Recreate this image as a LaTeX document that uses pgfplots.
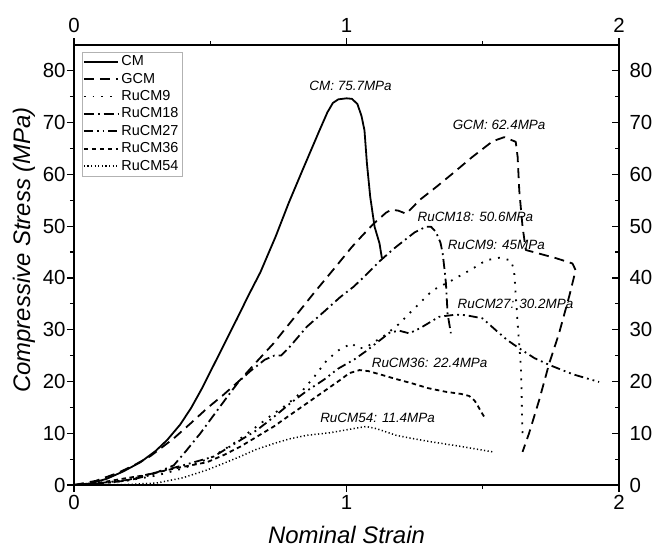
\documentclass[border=0pt]{standalone}
\usepackage{fontspec}
\setmainfont{Liberation Sans}
\usepackage{pgfplots}
\pgfplotsset{compat=1.18}

\pgfplotsset{
  frame/.style={
    scale only axis, width=545bp, height=440bp,
    at={(0,0)}, anchor=south west,
    xmin=0, xmax=2, ymin=0, ymax=85,
    xtick={0,1,2}, minor xtick={0.5,1.5},
    ytick={0,10,...,80}, minor ytick={5,15,...,75},
    major tick length=7bp, minor tick length=4bp,
    axis line style={line width=1.3bp},
    tick style={line width=1.2bp, black},
    tick label style={font=\fontsize{20.5}{24}\selectfont},
    /pgf/number format/assume math mode=true,
  },
}

\begin{document}
\begin{tikzpicture}
\path[use as bounding box] (-74bp,-67bp) rectangle (580bp,485bp);

% top and right scales (right ticks point inward, top ticks outward)
\begin{axis}[frame,
  tick align=outside,
  xtick pos=right, xticklabel pos=right,
  ytick pos=right, yticklabel pos=right,
  major y tick style={xshift=-7bp},
  minor y tick style={xshift=-4bp},
  xticklabel style={yshift=2bp},
]
\end{axis}

\begin{axis}[frame,
  tick align=outside,
  xtick pos=left, ytick pos=left,
  xlabel={\itshape Nominal Strain},
  ylabel={\itshape Compressive Stress (MPa)},
  label style={font=\fontsize{24}{28}\selectfont},
  xlabel style={at={(0.5,0)}, anchor=center, yshift=-50bp},
  ylabel style={at={(0,0.534)}, anchor=center, yshift=50bp},
  yticklabel style={xshift=2bp},
  legend style={at={(0,1)}, anchor=north west, xshift=7.7bp, yshift=-6.7bp,
    draw=gray!60, line width=0.6bp, inner sep=1bp,
    font=\fontsize{14.5}{16}\selectfont,
    nodes={text height=10bp, text depth=2bp, inner sep=2.7bp}},
  legend cell align=left,
  legend image code/.code={\draw[#1] (0bp,0bp) -- (34bp,0bp);},
  every axis plot/.append style={black, line width=1.8bp, line join=round},
]

\addplot[solid] coordinates {
(0,0) (0.06,0.3) (0.12,1.2) (0.18,2.6) (0.244,4.4) (0.30,6.6) (0.342,8.7)
(0.39,11.7) (0.43,14.9) (0.47,18.7) (0.513,23.2) (0.555,27.6) (0.598,32.1)
(0.64,36.6) (0.684,41.1) (0.74,48.0) (0.788,54.5) (0.84,61.0) (0.90,68.4)
(0.93,72.0) (0.95,73.8) (0.97,74.5) (1.0,74.7) (1.02,74.6) (1.04,73.6)
(1.055,71.3) (1.066,68.5) (1.075,62.1) (1.087,55.7) (1.103,49.9) (1.121,46.7)
(1.13,43.8)
};
\addlegendentry{CM}

\addplot[dash pattern=on 10bp off 6bp] coordinates {
(0,0) (0.08,0.8) (0.159,2.3) (0.22,3.8) (0.281,5.6) (0.366,9.0) (0.43,12.0)
(0.488,14.8) (0.55,17.5) (0.61,20.3) (0.67,23.8) (0.733,27.4) (0.80,31.8)
(0.879,37.0) (0.95,41.5) (1.02,46.0) (1.06,48.3) (1.10,50.5) (1.145,52.6)
(1.165,53.2) (1.19,53.0) (1.219,52.4) (1.24,53.5) (1.267,55.0) (1.33,57.6)
(1.39,60.2) (1.46,63.3) (1.536,66.4) (1.579,67.2) (1.621,66.3) (1.628,63.4)
(1.634,56.9) (1.646,49.9) (1.658,45.4) (1.707,44.7) (1.77,43.8) (1.829,42.8)
(1.841,41.5) (1.817,36.4) (1.78,29.3) (1.744,23.5) (1.707,16.4) (1.67,10.0)
(1.646,6.4)
};
\addlegendentry{GCM}

\addplot[dash pattern=on 1.8bp off 7bp] coordinates {
(0,0) (0.1,0.3) (0.2,0.9) (0.3,1.8) (0.4,3.2) (0.5,5.2) (0.58,7.8) (0.65,10.5)
(0.72,13.3) (0.78,15.5) (0.83,17.7) (0.88,20.8) (0.928,24.1) (0.97,26.0)
(1.02,27.4) (1.04,26.4) (1.07,26.5) (1.10,27.6) (1.133,28.6) (1.19,31.0)
(1.243,33.8) (1.316,37.6) (1.389,39.6) (1.463,41.8) (1.512,43.4) (1.56,43.9)
(1.603,43.4) (1.615,41.5) (1.628,31.2) (1.64,22.8) (1.643,16.4) (1.646,10.0)
};
\addlegendentry{RuCM9}

\addplot[dash pattern=on 10bp off 4bp on 1.8bp off 4bp] coordinates {
(0,0) (0.1,0.3) (0.2,0.9) (0.28,1.9) (0.366,3.8) (0.41,6.5) (0.464,10.0)
(0.51,13.3) (0.562,17.0) (0.605,20.0) (0.647,22.0) (0.70,24.2) (0.735,25.0)
(0.76,25.0) (0.79,26.6) (0.855,30.6) (0.92,33.6) (0.977,36.3) (1.026,38.3)
(1.07,40.5) (1.121,43.2) (1.17,45.5) (1.206,47.0) (1.25,48.8) (1.292,49.9)
(1.31,49.9) (1.328,48.9) (1.345,46.8) (1.353,44.7) (1.36,41.5) (1.365,38.9)
(1.371,33.1) (1.383,29.3)
};
\addlegendentry{RuCM18}

\addplot[dash pattern=on 9bp off 4bp on 1.8bp off 4bp on 1.8bp off 4bp] coordinates {
(0,0) (0.1,0.4) (0.2,1.0) (0.3,2.4) (0.4,3.8) (0.513,5.5) (0.59,8.0)
(0.671,10.6) (0.73,13.0) (0.794,15.8) (0.855,18.2) (0.916,20.3) (0.97,22.5)
(1.03,24.3) (1.07,25.8) (1.109,27.4) (1.16,29.5) (1.194,29.8) (1.23,29.3)
(1.27,30.3) (1.34,32.5) (1.40,32.9) (1.438,32.8) (1.499,32.2) (1.548,29.9)
(1.59,28.0) (1.634,26.4) (1.69,24.5) (1.744,23.2) (1.83,21.4) (1.927,19.9)
};
\addlegendentry{RuCM27}

\addplot[dash pattern=on 4.5bp off 3.5bp] coordinates {
(0,0) (0.1,0.5) (0.2,1.4) (0.25,1.8) (0.37,3.2) (0.488,4.4) (0.55,5.8)
(0.61,7.4) (0.67,9.3) (0.733,11.3) (0.795,13.6) (0.855,15.8) (0.92,18.2)
(0.977,20.3) (1.01,21.6) (1.048,22.2) (1.08,22.0) (1.121,21.4) (1.18,20.5)
(1.243,19.6) (1.30,18.7) (1.365,18.0) (1.42,17.6) (1.45,17.2) (1.47,16.3)
(1.48,15.5) (1.49,14.5) (1.505,13.2)
};
\addlegendentry{RuCM36}

\addplot[dash pattern=on 1.2bp off 2.4bp, line width=1.5bp] coordinates {
(0,0) (0.1,0.05) (0.2,0.1) (0.305,0.4) (0.4,1.4) (0.488,2.9) (0.55,4.2)
(0.61,5.5) (0.67,6.9) (0.733,8.0) (0.79,8.9) (0.855,9.6) (0.94,10.1)
(1.026,10.9) (1.072,11.3) (1.109,10.9) (1.182,9.6) (1.24,9.0) (1.304,8.4)
(1.426,7.4) (1.536,6.4)
};
\addlegendentry{RuCM54}

\begin{scope}[every node/.style={font=\fontsize{13.5}{15}\selectfont\itshape}]
\node at (axis cs:1.015,77.2) {CM: 75.7MPa};
\node at (axis cs:1.56,69.5) {GCM: 62.4MPa};
\node at (axis cs:1.473,51.8) {RuCM18: 50.6MPa};
\node at (axis cs:1.55,46.3) {RuCM9: 45MPa};
\node at (axis cs:1.62,34.9) {RuCM27: 30.2MPa};
\node at (axis cs:1.305,23.5) {RuCM36: 22.4MPa};
\node at (axis cs:1.114,12.9) {RuCM54: 11.4MPa};
\end{scope}
\end{axis}
\end{tikzpicture}
\end{document}
